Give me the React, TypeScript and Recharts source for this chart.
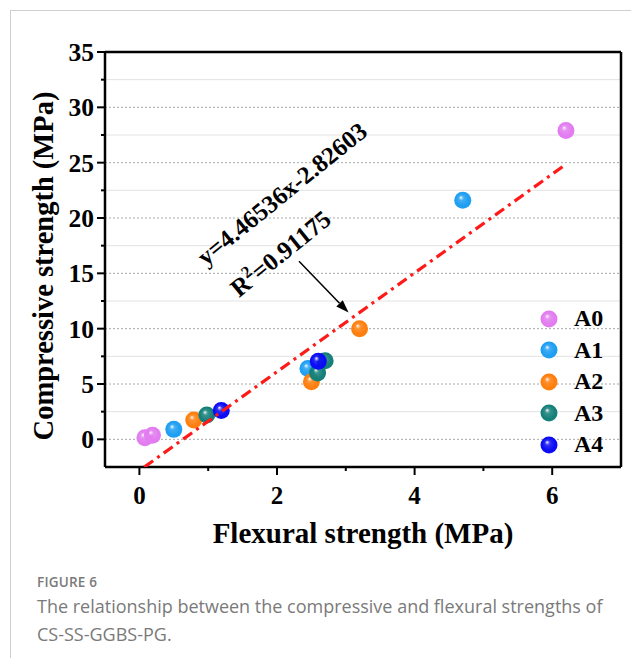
import React from 'react';
import {
  ScatterChart,
  Scatter,
  XAxis,
  YAxis,
  CartesianGrid,
  ReferenceLine,
  ReferenceDot,
} from 'recharts';

// series names + colours
const seriesNames = ['A0', 'A1', 'A2', 'A3', 'A4'];
const seriesColors = ['#e27cf0', '#1f9ff2', '#ff7f0e', '#15807a', '#0b0bf5'];

// flexural (x) vs compressive (y), MPa
const a0 = [
  { x: 0.08, y: 0.15 },
  { x: 0.19, y: 0.36 },
  { x: 6.2, y: 27.9 },
];
const a1 = [
  { x: 0.5, y: 0.9 },
  { x: 2.45, y: 6.4 },
  { x: 4.7, y: 21.6 },
];
const a2 = [
  { x: 0.79, y: 1.74 },
  { x: 2.5, y: 5.2 },
  { x: 3.2, y: 10.0 },
];
const a3 = [
  { x: 0.98, y: 2.2 },
  { x: 2.59, y: 6.0 },
  { x: 2.7, y: 7.1 },
];
const a4 = [
  { x: 1.19, y: 2.6 },
  { x: 2.6, y: 7.06 },
];
const seriesData = [a0, a1, a2, a3, a4];

// linear fit y = 4.46536x - 2.82603, end points
const fitLine = [
  { x: 0.07, y: -2.51 },
  { x: 6.2, y: 24.86 },
];
const arrowSegment = [
  { x: 2.32, y: 16.1 },
  { x: 3.04, y: 11.45 },
];
const eqText = 'y=4.46536x-2.82603';
const r2Value = '=0.91175';

const xTicks = [0, 1, 2, 3, 4, 5, 6];
const yTicks = [0, 2.5, 5, 7.5, 10, 12.5, 15, 17.5, 20, 22.5, 25, 27.5, 30, 32.5, 35];
const yMajorGrid = [0, 5, 10, 15, 20, 25, 30];
const yMinorGrid = [2.5, 7.5, 12.5, 17.5, 22.5, 27.5, 32.5];

const serif = '"Liberation Serif", "Times New Roman", serif';

const XTick = (props: any) => {
  const { x, y, payload } = props;
  const major = payload.value % 2 === 0;
  return (
    <g>
      <line x1={x} y1={y} x2={x} y2={y + (major ? 8 : 4)} stroke="#000" strokeWidth={2} />
      {major && (
        <text x={x} y={y + 37} textAnchor="middle" fontFamily={serif} fontWeight="bold" fontSize={25} fill="#000">
          {payload.value}
        </text>
      )}
    </g>
  );
};

const YTick = (props: any) => {
  const { x, y, payload } = props;
  const major = payload.value % 5 === 0;
  return (
    <g>
      <line x1={x - (major ? 8 : 4)} y1={y} x2={x} y2={y} stroke="#000" strokeWidth={2} />
      {major && (
        <text x={x - 11} y={y + 9} textAnchor="end" fontFamily={serif} fontWeight="bold" fontSize={25.5} fill="#000">
          {payload.value}
        </text>
      )}
    </g>
  );
};

const sphere = (i: number) => (props: any) => (
  <circle cx={props.cx} cy={props.cy} r={8.5} fill={`url(#sph${i})`} />
);

const Arrow = (props: any) => {
  const { x1, y1, x2, y2 } = props;
  const ang = Math.atan2(y2 - y1, x2 - x1);
  const len = 13;
  const w = 4.5;
  const bx = x2 - len * Math.cos(ang);
  const by = y2 - len * Math.sin(ang);
  const px = -Math.sin(ang) * w;
  const py = Math.cos(ang) * w;
  return (
    <g>
      <line x1={x1} y1={y1} x2={bx} y2={by} stroke="#000" strokeWidth={1.5} />
      <polygon points={`${x2},${y2} ${bx + px},${by + py} ${bx - px},${by - py}`} fill="#000" />
    </g>
  );
};

const EqLabel = (props: any) => (
  <text
    x={props.cx}
    y={props.cy}
    textAnchor="middle"
    transform={`rotate(-39 ${props.cx} ${props.cy})`}
    fontFamily={serif}
    fontWeight="bold"
    fontSize={25}
    fill="#000"
  >
    {eqText}
  </text>
);

const R2Label = (props: any) => (
  <text
    x={props.cx}
    y={props.cy}
    textAnchor="middle"
    transform={`rotate(-39 ${props.cx} ${props.cy})`}
    fontFamily={serif}
    fontWeight="bold"
    fontSize={25}
    fill="#000"
  >
    R<tspan fontSize={17} dy={-10}>2</tspan>
    <tspan dy={10}>{r2Value}</tspan>
  </text>
);

export default function App() {
  return (
    <div style={{ position: 'relative', margin: -8, width: 639, height: 666, background: '#fff', overflow: 'hidden' }}>
      <div
        style={{
          position: 'absolute',
          left: 10,
          top: 10,
          width: 640,
          height: 670,
          borderTop: '1.5px solid #cfcfcf',
          borderLeft: '1.5px solid #cfcfcf',
        }}
      />
      <div style={{ position: 'absolute', left: 0, top: 0 }}>
        <ScatterChart width={639} height={560} margin={{ top: 52, left: 104, right: 18, bottom: 92 }}>
          <defs>
            {seriesColors.map((c, i) => (
              <radialGradient key={c} id={`sph${i}`} cx="0.5" cy="0.5" r="0.5" fx="0.38" fy="0.32">
                <stop offset="0%" stopColor="#ffffff" />
                <stop offset="30%" stopColor={c} stopOpacity={0.85} />
                <stop offset="75%" stopColor={c} />
                <stop offset="100%" stopColor={c} />
              </radialGradient>
            ))}
          </defs>
          <CartesianGrid horizontalValues={yMinorGrid} vertical={false} stroke="#e2e2e2" strokeWidth={1} />
          <CartesianGrid horizontalValues={yMajorGrid} vertical={false} stroke="#a8a8a8" strokeDasharray="2 2" strokeWidth={1} />
          <XAxis
            type="number"
            dataKey="x"
            domain={[-0.5, 7]}
            ticks={xTicks}
            allowDataOverflow
            height={1}
            tickSize={0}
            tickMargin={0}
            tickLine={false}
            tick={<XTick />}
            axisLine={{ stroke: '#000', strokeWidth: 2.5 }}
          />
          <YAxis
            type="number"
            dataKey="y"
            domain={[-2.5, 35]}
            ticks={yTicks}
            allowDataOverflow
            width={1}
            tickSize={0}
            tickMargin={0}
            tickLine={false}
            tick={<YTick />}
            axisLine={{ stroke: '#000', strokeWidth: 2.5 }}
          />
          <ReferenceLine y={35} stroke="#000" strokeWidth={2.5} ifOverflow="visible" />
          <ReferenceLine x={7} stroke="#000" strokeWidth={2.5} ifOverflow="visible" />
          {seriesData.map((d, i) => (
            <Scatter
              key={seriesNames[i]}
              name={seriesNames[i]}
              data={d}
              fill={seriesColors[i]}
              shape={sphere(i)}
              isAnimationActive={false}
            />
          ))}
          <Scatter
            name="fit"
            data={fitLine}
            legendType="none"
            line={{ stroke: '#ff1a1a', strokeWidth: 3.2, strokeDasharray: '11 5 3 5' }}
            shape={() => <g />}
            isAnimationActive={false}
          />
          <ReferenceLine segment={arrowSegment} shape={<Arrow />} ifOverflow="visible" />
          <ReferenceDot x={2.15} y={21.6} r={0} shape={<EqLabel />} ifOverflow="visible" />
          <ReferenceDot x={2.13} y={16.2} r={0} shape={<R2Label />} ifOverflow="visible" />
          <text x={363} y={543} textAnchor="middle" fontFamily={serif} fontWeight="bold" fontSize={29} fill="#000">
            Flexural strength (MPa)
          </text>
          <text
            x={53}
            y={266}
            textAnchor="middle"
            transform="rotate(-90 53 266)"
            fontFamily={serif}
            fontWeight="bold"
            fontSize={28.5}
            fill="#000"
          >
            Compressive strength (MPa)
          </text>
        </ScatterChart>
      </div>
      <div
        style={{
          position: 'absolute',
          left: 539,
          top: 303,
          fontFamily: serif,
          fontWeight: 'bold',
          fontSize: 24,
        }}
      >
        {seriesNames.map((n, i) => (
          <div key={n} style={{ display: 'flex', alignItems: 'center', height: 31.5 }}>
            <svg width={20} height={20} style={{ marginRight: 15 }}>
              <circle cx={10} cy={10} r={8.5} fill={`url(#sph${i})`} />
            </svg>
            <span>{n}</span>
          </div>
        ))}
      </div>
      <div
        style={{
          position: 'absolute',
          left: 37,
          top: 573,
          fontFamily: '"Open Sans", sans-serif',
          color: '#7a7a7a',
        }}
      >
        <div style={{ fontSize: 13.5, fontWeight: 600, letterSpacing: 0.2 }}>FIGURE 6</div>
        <div style={{ fontSize: 18, lineHeight: '28px', marginTop: 1, width: 600 }}>
          The relationship between the compressive and flexural strengths of{' '}
          <span style={{ whiteSpace: 'nowrap' }}>CS-SS-GGBS-PG.</span>
        </div>
      </div>
    </div>
  );
}
